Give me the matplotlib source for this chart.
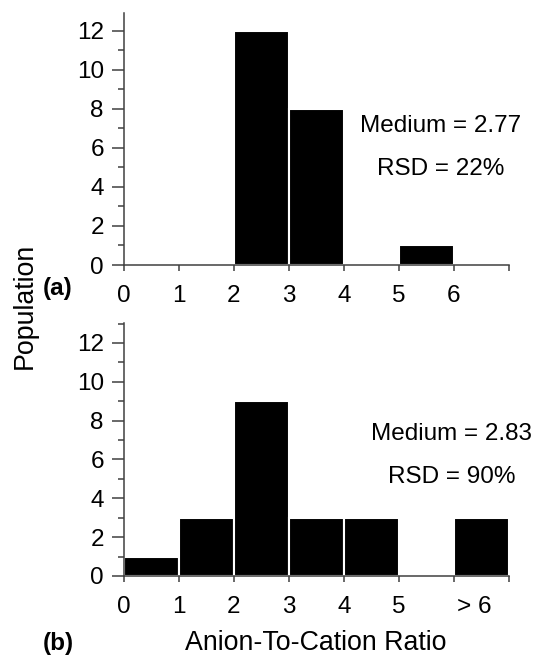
# Anion-to-cation ratio histograms, panels (a) and (b)
import matplotlib
matplotlib.use("Agg")
import matplotlib.pyplot as plt

plt.rcParams["font.family"] = ["Liberation Sans", "DejaVu Sans"]

# panel (a)
bins_a = [0, 1, 2, 3, 4, 5]
counts_a = [0, 0, 12, 8, 0, 1]
xlabels_a = ["0", "1", "2", "3", "4", "5", "6", ""]
note_a = ["Medium = 2.77", "RSD = 22%"]

# panel (b)
bins_b = [0, 1, 2, 3, 4, 5, 6]
counts_b = [1, 3, 9, 3, 3, 0, 3]
xlabels_b = ["0", "1", "2", "3", "4", "5", "> 6"]
note_b = ["Medium = 2.83", "RSD = 90%"]

FS = 17.5
FS_LAB = 19.3
AX_C = "#404040"

W, H = 536, 658
fig = plt.figure(figsize=(W / 100, H / 100), dpi=100)


def px(l, b, w, h):
    return [l / W, 1 - b / H, w / W, h / H]


ax_a = fig.add_axes(px(124, 265, 385, 252))
ax_b = fig.add_axes(px(124, 576, 385, 253))


def style(ax, ytop):
    ax.set_xlim(0, 7)
    ax.set_ylim(0, ytop)
    for s in ["top", "right"]:
        ax.spines[s].set_visible(False)
    for s in ["left", "bottom"]:
        ax.spines[s].set_color(AX_C)
        ax.spines[s].set_linewidth(1.1)
    ax.set_yticks(range(0, 13, 2))
    ax.set_yticks(range(1, int(ytop) + 1, 2), minor=True)
    ax.tick_params(axis="y", which="major", length=8.5, width=1.1, color=AX_C,
                   pad=6, labelsize=FS)
    ax.tick_params(axis="y", which="minor", length=4.5, width=1.1, color=AX_C)
    ax.tick_params(axis="x", which="both", length=4.3, width=1.1, color=AX_C,
                   pad=10, labelsize=FS)


ax_a.bar(bins_a, counts_a, width=1, align="edge", color="black",
         edgecolor="white", linewidth=1.5)
style(ax_a, 12.9)
ax_a.set_xticks(range(8))
ax_a.set_xticklabels(xlabels_a)
ax_a.text(5.76, 6.82, note_a[0], ha="center", va="baseline", fontsize=FS)
ax_a.text(5.76, 4.62, note_a[1], ha="center", va="baseline", fontsize=FS)

ax_b.bar(bins_b, counts_b, width=1, align="edge", color="black",
         edgecolor="white", linewidth=1.5)
style(ax_b, 13.03)
ax_b.set_xticks([0, 1, 2, 3, 4, 5, 6.36])
ax_b.set_xticklabels(xlabels_b)
ax_b.xaxis.get_major_ticks()[-1].tick1line.set_visible(False)
ax_b.set_xticks([6, 7], minor=True)
ax_b.text(5.96, 7.0, note_b[0], ha="center", va="baseline", fontsize=FS)
ax_b.text(5.96, 4.79, note_b[1], ha="center", va="baseline", fontsize=FS)

fig.text(25 / W, 1 - 306 / H, "Population", rotation=90, ha="center",
         va="center", fontsize=FS_LAB)
fig.text(316 / W, 1 - 650 / H, "Anion-To-Cation Ratio", ha="center",
         va="baseline", fontsize=FS_LAB)
fig.text(58 / W, 1 - 288 / H, "(a)", ha="center", va="center",
         fontsize=FS, fontweight="bold")
fig.text(58 / W, 1 - 650 / H, "(b)", ha="center", va="baseline",
         fontsize=FS, fontweight="bold")

fig.savefig("out.png", dpi=100)
